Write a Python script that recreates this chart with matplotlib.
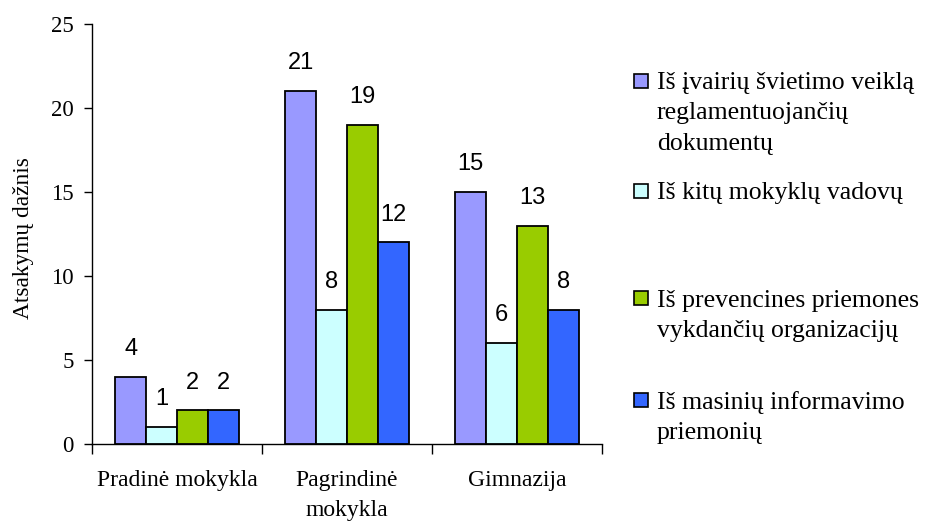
import numpy as np
import matplotlib
matplotlib.use("Agg")
import matplotlib.pyplot as plt
from matplotlib.patches import Rectangle

# duomenys
categories = ["Pradinė mokykla", "Pagrindinė\nmokykla", "Gimnazija"]
series_names = [
    "Iš įvairių švietimo veiklą\nreglamentuojančių\ndokumentų",
    "Iš kitų mokyklų vadovų",
    "Iš prevencines priemones\nvykdančių organizacijų",
    "Iš masinių informavimo\npriemonių",
]
values = [
    [4, 21, 15],
    [1, 8, 6],
    [2, 19, 13],
    [2, 12, 8],
]
colors = ["#9999FF", "#CCFFFF", "#99CC00", "#3366FF"]
y_ticks = [0, 5, 10, 15, 20, 25]

serif = "Liberation Serif"
sans = "Liberation Sans"

fig = plt.figure(figsize=(9.28, 5.22), dpi=100)
ax = fig.add_axes([92/928, 1 - 444/522, 510/928, 420/522])

n = len(values)
w = 1 / (n + 1.5)
x = np.arange(len(categories)) + 0.5
for i, vals in enumerate(values):
    xs = x - n * w / 2 + w * (i + 0.5)
    bars = ax.bar(xs, vals, width=w, color=colors[i], edgecolor="black", linewidth=1.3, zorder=3)
    for b, v in zip(bars, vals):
        ax.annotate(str(v), (b.get_x() + b.get_width() / 2, v), xytext=(0, 20),
                    textcoords="offset points", ha="center", va="center",
                    fontsize=17, family=sans)

ax.set_xlim(0, len(categories))
ax.set_ylim(0, 25)
ax.set_yticks(y_ticks)
ax.set_yticklabels([str(t) for t in y_ticks], family=serif, fontsize=16.5)
ax.tick_params(axis="y", length=6, width=1, pad=7)

ax.set_xticks(np.arange(len(categories) + 1), minor=True)
ax.set_xticks(x)
ax.set_xticklabels(categories, family=serif, fontsize=17, linespacing=1.55)
ax.tick_params(axis="x", which="major", length=0, pad=19)
ax.tick_params(axis="x", which="minor", length=7, width=1)

for s in ["top", "right"]:
    ax.spines[s].set_visible(False)
for s in ["left", "bottom"]:
    ax.spines[s].set_linewidth(1)

ax.set_ylabel("Atsakymų dažnis", family=serif, fontsize=16.8)
ax.yaxis.set_label_coords(-0.113, 0.49)

# legenda
legend_y = [81, 191, 298, 400]
for name, col, yy in zip(series_names, colors, legend_y):
    fig.patches.append(Rectangle((634/928, 1 - (yy + 7)/522), 14/928, 14/522,
                                 transform=fig.transFigure, facecolor=col,
                                 edgecolor="black", linewidth=1.2))
    for k, line in enumerate(name.split("\n")):
        fig.text(657/928, 1 - (yy + 30 * k)/522, line, family=serif, fontsize=18.5,
                 ha="left", va="center_baseline")

fig.savefig("out.png", dpi=100)
